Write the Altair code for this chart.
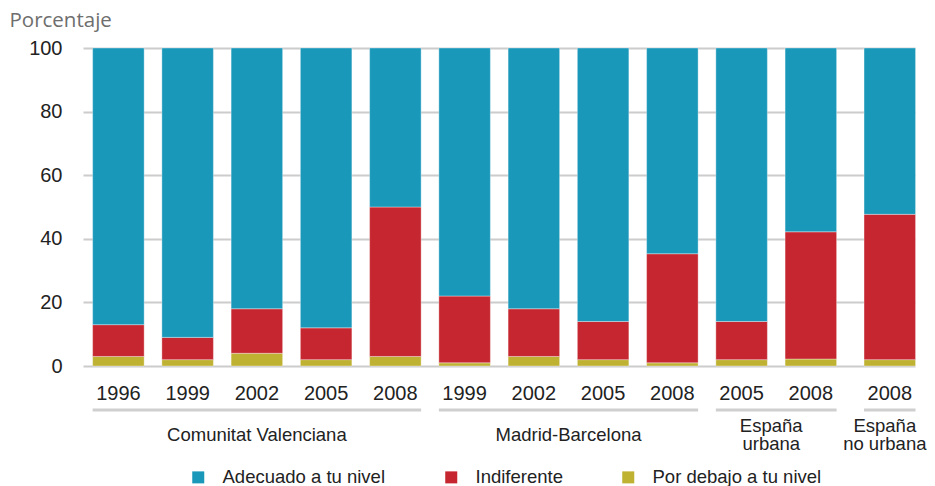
import altair as alt
import pandas as pd

# ---- data ----
groups = ["Comunitat Valenciana"] * 5 + ["Madrid-Barcelona"] * 4 + ["España\nurbana"] * 2 + ["España\nno urbana"]
years = [1996, 1999, 2002, 2005, 2008, 1999, 2002, 2005, 2008, 2005, 2008, 2008]
adecuado = [87, 91, 82, 88, 50, 78, 82, 86, 64.7, 86, 57.8, 52.3]
indiferente = [10, 7, 14, 10, 47, 21, 15, 12, 34.3, 12, 40, 45.7]
por_debajo = [3, 2, 4, 2, 3, 1, 3, 2, 1, 2, 2.2, 2]

series_names = ["Adecuado a tu nivel", "Indiferente", "Por debajo a tu nivel"]
series_colors = ["#1a98ba", "#c5262f", "#bfb132"]

# ---- layout helpers ----
group_order = list(dict.fromkeys(groups))
extra_gap = {g: 0.0 for g in group_order}
extra_gap[group_order[-1]] = 0.14
pos = [i + extra_gap[g] for i, g in enumerate(groups)]
HALF = 0.372

bars_rows = []
for i, (g, y) in enumerate(zip(groups, years)):
    bars_rows.append(dict(bar=i, group=g, year=str(y), pos=pos[i],
                          x0=pos[i] - HALF, x1=pos[i] + HALF))
bars_df = pd.DataFrame(bars_rows)

rows = []
for i in range(len(years)):
    for k, (name, vals) in enumerate(zip(series_names, [adecuado, indiferente, por_debajo])):
        r = dict(bars_rows[i])
        r.update(serie=name, order=2 - k, value=vals[i])
        rows.append(r)
df = pd.DataFrame(rows)

FONT = "Liberation Sans"
xscale = alt.Scale(domain=[-0.511, 11.504], nice=False, zero=False)

bars = (
    alt.Chart(df)
    .transform_stack(stack="value", groupby=["bar"], as_=["y0", "y1"],
                     sort=[alt.SortField("order", order="ascending")])
    .mark_bar(stroke="white", strokeWidth=1, strokeOpacity=0.35)
    .encode(
        x=alt.X("x0:Q", scale=xscale, axis=None),
        x2="x1:Q",
        y=alt.Y("y0:Q", scale=alt.Scale(domain=[0, 100], nice=False),
                axis=alt.Axis(values=[0, 20, 40, 60, 80, 100], ticks=False, tickSize=0,
                              domain=False, grid=True, gridColor="#cccccc", gridWidth=2,
                              labelFont=FONT, labelFontSize=20, labelColor="#222222",
                              labelPadding=21,
                              title="Porcentaje", titleAngle=0, titleAlign="left",
                              titleBaseline="alphabetic", titleX=-74, titleY=-22,
                              titleFont="Open Sans", titleFontSize=20.5,
                              titleFontWeight="normal", titleColor="#6e6e6e")),
        y2="y1:Q",
        color=alt.Color("serie:N",
                        scale=alt.Scale(domain=series_names, range=series_colors),
                        legend=alt.Legend(orient="none", legendX=106, legendY=420,
                                          direction="horizontal", title=None,
                                          symbolType="square", symbolSize=144,
                                          symbolStrokeWidth=0, symbolOpacity=1,
                                          labelFont=FONT, labelFontSize=18.5,
                                          labelColor="#222222", labelOffset=15,
                                          labelLimit=400, columnPadding=56)),
        order=alt.Order("order:Q"),
    )
)

year_text = (
    alt.Chart(bars_df)
    .mark_text(font=FONT, fontSize=20, color="#222222", baseline="middle", align="center")
    .encode(x=alt.X("pos:Q", scale=xscale), y=alt.value(346), text="year:N")
)

group_rules = (
    alt.Chart(bars_df)
    .transform_aggregate(gx0="min(x0)", gx1="max(x1)", groupby=["group"])
    .mark_rule(color="#cfcfcf", strokeWidth=3)
    .encode(x=alt.X("gx0:Q", scale=xscale), x2="gx1:Q", y=alt.value(362))
)

group_base = (
    alt.Chart(bars_df)
    .transform_aggregate(gc="mean(pos)", groupby=["group"])
)
text_style = dict(font=FONT, fontSize=18.5, color="#222222", baseline="middle",
                  align="center", lineBreak="\n", lineHeight=18)
group_text_single = (
    group_base.transform_filter("indexof(datum.group, '\\n') < 0")
    .mark_text(**text_style)
    .encode(x=alt.X("gc:Q", scale=xscale), y=alt.value(387), text="group:N")
)
group_text_multi = (
    group_base.transform_filter("indexof(datum.group, '\\n') >= 0")
    .mark_text(dx=-5, **text_style)
    .encode(x=alt.X("gc:Q", scale=xscale), y=alt.value(378), text="group:N")
)

chart = (
    alt.layer(bars, year_text, group_rules, group_text_single, group_text_multi)
    .properties(width=832, height=318,
                autosize=alt.AutoSizeParams(type="none"),
                padding={"left": 75, "top": 40, "right": 12, "bottom": 120})
    .configure_view(stroke=None)
)

chart.save("out.html", embed_options={"renderer": "svg", "actions": False})
